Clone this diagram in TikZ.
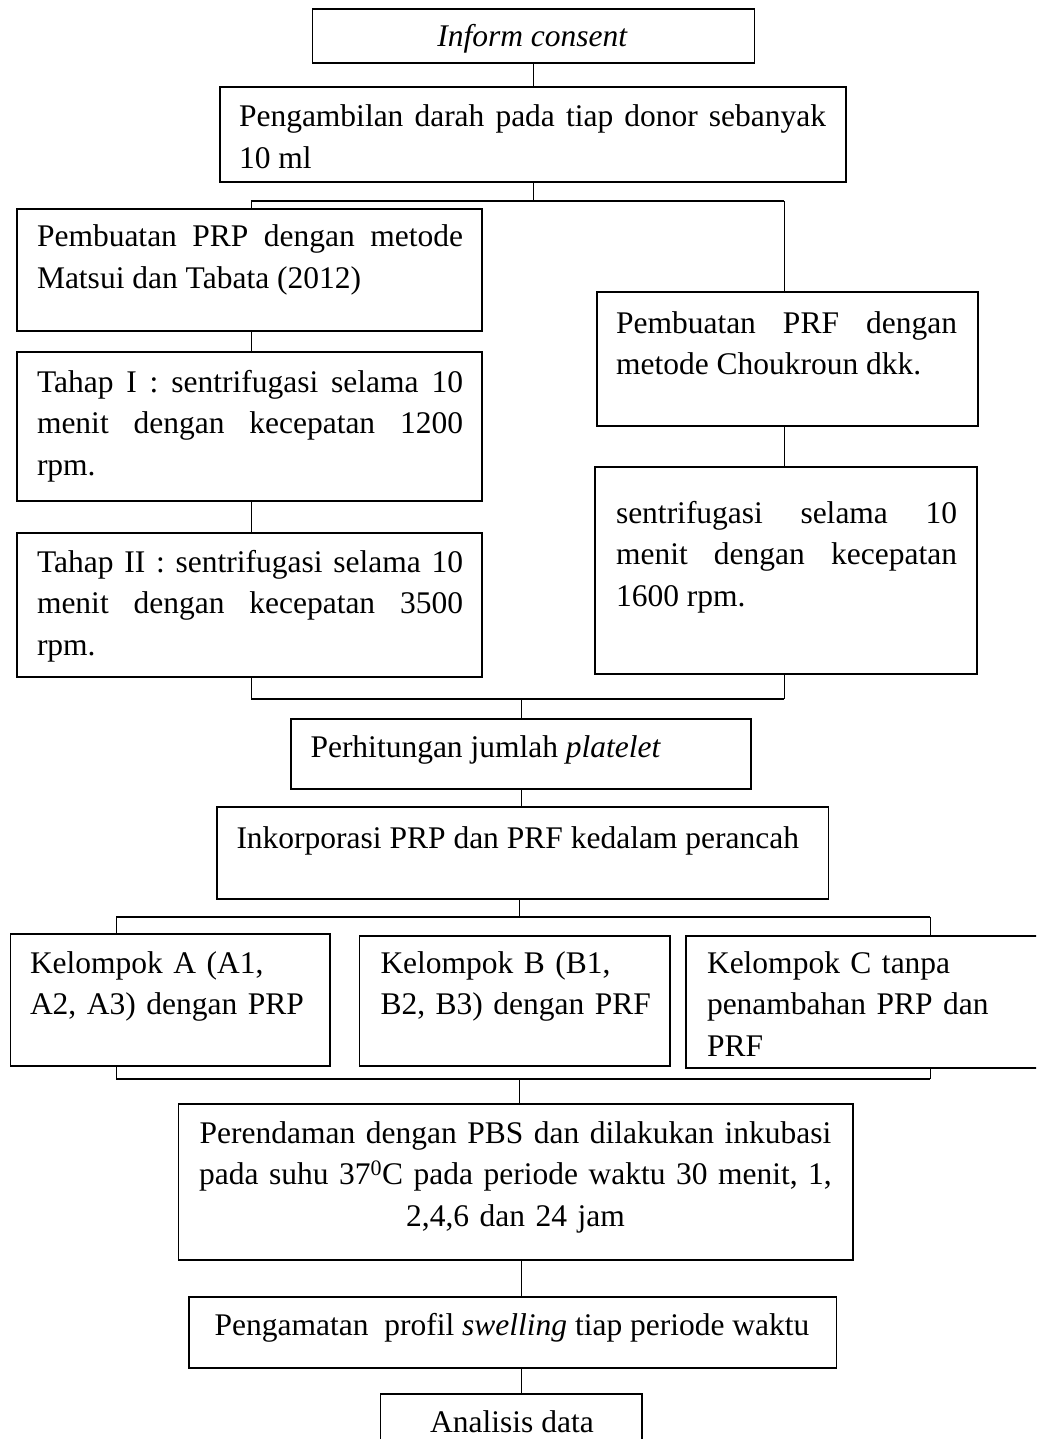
\documentclass[tikz,border=0pt]{standalone}
\usepackage{fontspec}
\setmainfont{Liberation Serif}
\begin{document}
\begin{tikzpicture}[x=1pt,y=-1pt,
  box/.style={draw, line width=1.1pt, inner sep=0pt, outer sep=0pt},
  conn/.style={line width=1pt},
  hbar/.style={line width=2.4pt},
  txt/.style={inner sep=0pt, outer sep=0pt, font=\fontsize{31.5}{41.5}\selectfont},
  jtxt/.style={txt, anchor=base west, align=justify}
]
\clip (0,0) rectangle (1036,1439);
\fill[white] (0,0) rectangle (1036,1439);

% boxes
\node[box, minimum width=442pt, minimum height=54pt] (inform) at (533.5,36) {};
\node[box, minimum width=626pt, minimum height=95pt] (ambil) at (533,134.5) {};
\node[box, minimum width=465pt, minimum height=122pt] (prp) at (249.5,270) {};
\node[box, minimum width=465pt, minimum height=149pt] (tahap1) at (249.5,426.5) {};
\node[box, minimum width=465pt, minimum height=144pt] (tahap2) at (249.5,605) {};
\node[box, minimum width=381pt, minimum height=134pt] (prf) at (787.5,359) {};
\node[box, minimum width=382pt, minimum height=207pt] (sentrif) at (786,570.5) {};
\node[box, minimum width=460pt, minimum height=70pt] (hitung) at (521,754) {};
\node[box, minimum width=611.5pt, minimum height=92pt] (inkor) at (522.75,853) {};
\node[box, minimum width=319.5pt, minimum height=132pt] (ka) at (170.25,1000) {};
\node[box, minimum width=310.5pt, minimum height=130pt] (kb) at (514.75,1001) {};
\node[box, minimum width=364pt, minimum height=132pt] (kc) at (868,1002) {};
\node[box, minimum width=674.5pt, minimum height=156pt] (rendam) at (515.75,1182) {};
\node[box, minimum width=647.5pt, minimum height=71pt] (amati) at (512.75,1332.5) {};
\node[box, minimum width=261.5pt, minimum height=66pt] (analisis) at (511.25,1427) {};

% texts
\node[txt, anchor=base] (tinform) at (532.5,47) {\textit{Inform consent}};
\node[jtxt, text width=587pt] (tambil) at (239,127) {Pengambilan darah pada tiap donor sebanyak\linebreak 10 ml};
\node[jtxt, text width=426pt] (tprp) at (37,247) {Pembuatan PRP dengan metode\linebreak Matsui dan Tabata (2012)};
\node[jtxt, text width=426pt] (ttahap1) at (37,392) {Tahap I : sentrifugasi selama 10\linebreak menit dengan kecepatan 1200\linebreak rpm.};
\node[jtxt, text width=426pt] (ttahap2) at (37,572) {Tahap II : sentrifugasi selama 10\linebreak menit dengan kecepatan 3500\linebreak rpm.};
\node[jtxt, text width=341pt] (tprf) at (616,333) {Pembuatan PRF dengan\linebreak metode Choukroun dkk.};
\node[jtxt, text width=341pt] (tsentrif) at (616,523) {sentrifugasi selama 10\linebreak menit dengan kecepatan\linebreak 1600 rpm.};
\node[txt, anchor=base west] (thitung) at (310.5,757) {Perhitungan jumlah \textit{platelet}};
\node[txt, anchor=base west] (tinkor) at (236.5,848) {Inkorporasi PRP dan PRF kedalam perancah};
\node[txt, anchor=base west, text width=300pt, align=left] (tka) at (30,973) {Kelompok A (A1,\\A2, A3) dengan PRP};
\node[txt, anchor=base west, text width=290pt, align=left] (tkb) at (380.5,973) {Kelompok B (B1,\\B2, B3) dengan PRF};
\node[txt, anchor=base west, text width=320pt, align=left] (tkc) at (707,973) {Kelompok C tanpa\\penambahan PRP dan\\PRF};
\node[txt, anchor=base, text width=680pt, align=center] (trendam) at (515.5,1143) {Perendaman dengan PBS dan dilakukan inkubasi\\pada suhu 37\textsuperscript{0}C pada periode waktu 30 menit, 1,\\2,4,6 dan 24 jam};
\node[txt, anchor=base] (tamati) at (512,1335) {Pengamatan\ \ profil \textit{swelling} tiap periode waktu};
\node[txt, anchor=base] (tanalisis) at (512,1432) {Analisis data};

% junction coordinates
\coordinate (b1L) at (251,201);
\coordinate (b1R) at (784,201);
\coordinate (b2L) at (251,699);
\coordinate (b2R) at (784,699);
\coordinate (b2M) at (521,699);
\coordinate (b3L) at (116,917);
\coordinate (b3R) at (930,917);
\coordinate (b3M) at (519,917);
\coordinate (b4L) at (116,1079);
\coordinate (b4R) at (930,1079);
\coordinate (b4M) at (519,1079);

% connectors
\draw[conn] (inform.south) -- (inform.south |- ambil.north);
\draw[conn] (ambil.south) -- (ambil.south |- b1L);
\draw[conn] (b1L) -- (b1L |- prp.north);
\draw[conn] (b1R) -- (b1R |- prf.north);
\draw[hbar] (b1L) -- (b1R);
\draw[conn] (b1L |- prp.south) -- (b1L |- tahap1.north);
\draw[conn] (b1L |- tahap1.south) -- (b1L |- tahap2.north);
\draw[conn] (b1R |- prf.south) -- (b1R |- sentrif.north);
\draw[conn] (b2L |- tahap2.south) -- (b2L);
\draw[conn] (b2R |- sentrif.south) -- (b2R);
\draw[hbar] (b2L) -- (b2R);
\draw[conn] (b2M) -- (b2M |- hitung.north);
\draw[conn] (b2M |- hitung.south) -- (b2M |- inkor.north);
\draw[conn] (b3M |- inkor.south) -- (b3M);
\draw[conn] (b3L) -- (b3L |- ka.north);
\draw[conn] (b3R) -- (b3R |- kc.north);
\draw[hbar] (b3L) -- (b3R);
\draw[conn] (b4L |- ka.south) -- (b4L);
\draw[conn] (b4R |- kc.south) -- (b4R);
\draw[hbar] (b4L) -- (b4R);
\draw[conn] (b4M) -- (b4M |- rendam.north);
\draw[conn] (b2M |- rendam.south) -- (b2M |- amati.north);
\draw[conn] (b2M |- amati.south) -- (b2M |- analisis.north);
\end{tikzpicture}
\end{document}
